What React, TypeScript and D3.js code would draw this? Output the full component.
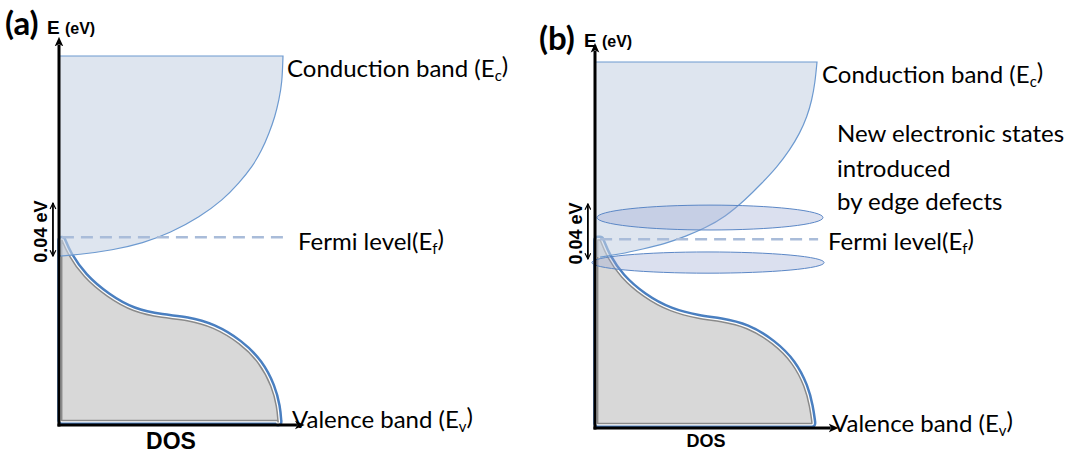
import * as d3 from "d3";

// ---- data (DOS units 0..100, energy units 0..100; 100 = top of the conduction band box) ----
type Pt = [number, number];

// panel (a)
const condA: Pt[] = [
  [100, 100], [99.6, 92.7], [98.2, 88.1], [96.4, 83.5], [93.8, 79.1], [90.6, 74.5],
  [86.2, 69.9], [80.4, 65.6], [73.2, 61.0], [62.9, 56.4], [49.6, 52.0], [37.5, 49.3],
  [24.1, 47.4], [8.0, 46.1], [0.4, 45.8],
];
const valA: Pt[] = [
  [1.3, 50.1], [3.6, 46.6], [10.7, 40.1], [21.4, 34.7], [33.0, 30.6], [46.4, 29.0],
  [57.1, 28.5], [68.8, 26.6], [80.8, 22.2], [89.7, 16.8], [95.1, 10.3], [97.3, 4.9], [97.8, 0.8],
];
const fermiA = { e: 50.9, from: 1.3, to: 100 };
const gapA = { dos: -2.7, top: 60.4, bottom: 45.5 };

// panel (b)
const condB: Pt[] = [
  [100, 100], [99.1, 94.3], [97.7, 89.6], [95.5, 85.0], [92.3, 80.6], [87.8, 76.0],
  [82.0, 71.3], [75.2, 66.9], [67.6, 62.3], [58.6, 57.7], [49.5, 54.6], [41.4, 52.5],
  [31.5, 50.3], [21.6, 48.9], [11.3, 47.5], [2.3, 46.7],
];
const valB: Pt[] = [
  [2.3, 51.4], [5.4, 46.7], [11.3, 41.3], [21.6, 35.8], [33.8, 31.7], [47.3, 29.8],
  [56.3, 29.2], [68.5, 27.6], [80.2, 23.2], [89.2, 17.8], [94.6, 11.2], [96.8, 5.7], [97.7, 1.6],
];
const fermiB = { e: 51.6, from: 2.3, to: 100.5 };
const gapB = { dos: -3.2, top: 61.5, bottom: 45.9 };
// edge-defect states: [centre dos, centre E, half width dos, half height E]
const defectStates: [number, number, number, number][] = [
  [51.8, 57.5, 50.9, 3.4],
  [50.9, 45.2, 52.3, 2.9],
];

const axisTop = 104.2;
const axisRight = 108;
const valInset = 1.2; // gray valence area sits just inside the axes

const W = 1067;
const H = 453;
const labelFont = "Lato, 'Open Sans', sans-serif";
const boldFont = "'Liberation Sans', Arial, sans-serif";

const cbFill = "rgba(200,212,228,0.6)";
const cbStroke = "#6d9ad0";

type Scale = d3.ScaleLinear<number, number>;

function Panel({
  id, x, y, cond, val, fermi, gap, states, dosSize, dosDy,
}: {
  id: string; x: Scale; y: Scale; cond: Pt[]; val: Pt[];
  fermi: { e: number; from: number; to: number };
  gap: { dos: number; top: number; bottom: number };
  states?: [number, number, number, number][];
  dosSize: number; dosDy: number;
}) {
  const curve = d3.line<Pt>().x((d) => x(d[0])).y((d) => y(d[1])).curve(d3.curveBasis);

  // conduction band: top edge + curve down to the axis
  const condEdge = `M${x(0)},${y(100)}` + curve(cond)!.replace(/^M/, "L");
  const condPath = condEdge + `L${x(0)},${y(cond[cond.length - 1][1])}Z`;

  // valence band closed outline
  const last = val[val.length - 1];
  const valPath = `M${x(valInset)},${y(valInset)}L${x(valInset)},${y(val[0][1])}` +
    curve(val)!.replace(/^M/, "L") + `L${x(last[0])},${y(valInset)}Z`;

  const x0 = x(0);
  const yBase = y(0);

  return (
    <g>
      {/* valence band: blue rim, white gap, gray line, gray fill */}
      <path d={valPath} fill="none" stroke="#4a7fc0" strokeWidth={9} strokeLinejoin="round" />
      <path d={valPath} fill="#fff" stroke="#fff" strokeWidth={4} strokeLinejoin="round" />
      <path d={valPath} fill="#d8d8d8" stroke="#8a8a8a" strokeWidth={1.5} strokeLinejoin="round" />

      {/* conduction band */}
      <path d={condPath} fill={cbFill} stroke="none" />
      <path d={condEdge} fill="none" stroke={cbStroke} strokeWidth={1.2} />

      {/* Fermi level */}
      <line x1={x(fermi.from)} x2={x(fermi.to)} y1={y(fermi.e)} y2={y(fermi.e)}
        stroke="#a9bcd9" strokeWidth={2.5} strokeDasharray="12 7" />

      {/* new states */}
      {states?.map((s, i) => (
        <ellipse key={i} cx={x(s[0])} cy={y(s[1])} rx={x(s[0] + s[2]) - x(s[0])} ry={y(s[1] - s[3]) - y(s[1])}
          fill="rgba(155,168,212,0.36)" stroke="#5b87c6" strokeWidth={1} />
      ))}

      {/* axes */}
      <line x1={x0} x2={x0} y1={yBase + 1.5} y2={y(axisTop) + 4} stroke="#000" strokeWidth={3}
        markerEnd={`url(#head-${id})`} />
      <line x1={x0 - 1.5} x2={x(axisRight) - 4} y1={yBase} y2={yBase} stroke="#000" strokeWidth={3}
        markerEnd={`url(#head-${id})`} />

      {/* 0.04 eV double arrow */}
      <line x1={x(gap.dos)} x2={x(gap.dos)} y1={y(gap.top) + 1} y2={y(gap.bottom) - 1} stroke="#000" strokeWidth={1.8}
        markerStart={`url(#chev-${id})`} markerEnd={`url(#chev-${id})`} />
      <text transform={`translate(${x(gap.dos) - 6},${(y(gap.top) + y(gap.bottom)) / 2 + 2}) rotate(-90)`}
        textAnchor="middle" fontFamily={boldFont} fontWeight="bold" fontSize={18}>0.04 eV</text>

      <text x={(x0 + x(100)) / 2} y={yBase + dosDy} textAnchor="middle"
        fontFamily={boldFont} fontWeight="bold" fontSize={dosSize}>DOS</text>

      <defs>
        <marker id={`head-${id}`} viewBox="0 0 10 10" refX={2} refY={5} markerWidth={3.2} markerHeight={3.2}
          orient="auto" markerUnits="strokeWidth">
          <path d="M0,0.5 L10,5 L0,9.5 L2.5,5 Z" fill="#000" />
        </marker>
        <marker id={`chev-${id}`} viewBox="0 0 10 10" refX={9} refY={5} markerWidth={4} markerHeight={4}
          orient="auto-start-reverse" markerUnits="strokeWidth">
          <path d="M1,1 L9,5 L1,9" fill="none" stroke="#000" strokeWidth={1.6} />
        </marker>
      </defs>
    </g>
  );
}

function Sub({ main, sub, close = ")" }: { main: string; sub: string; close?: string }) {
  return (
    <>
      {main}
      <tspan fontSize="0.62em" dy="0.3em">{sub}</tspan>
      <tspan dy="-0.3em">{close}</tspan>
    </>
  );
}

export default function App() {
  const xA = d3.scaleLinear().domain([0, 100]).range([59, 283]);
  const yA = d3.scaleLinear().domain([0, 100]).range([425, 56]);
  const xB = d3.scaleLinear().domain([0, 100]).range([595, 817]);
  const yB = d3.scaleLinear().domain([0, 100]).range([428, 62]);

  return (
    <svg width={W} height={H} style={{ position: "absolute", left: 0, top: 0, background: "#fff" }}>
      <Panel id="a" x={xA} y={yA} cond={condA} val={valA} fermi={fermiA} gap={gapA} dosSize={23} dosDy={24} />
      <Panel id="b" x={xB} y={yB} cond={condB} val={valB} fermi={fermiB} gap={gapB} states={defectStates}
        dosSize={18} dosDy={19} />

      {/* panel titles */}
      <text x={5} y={35} fontFamily={labelFont} fontWeight="bold" fontSize={33}>(a)</text>
      <text x={47} y={34} fontFamily={boldFont} fontWeight="bold" fontSize={19}>E <tspan fontSize={16}>(eV)</tspan></text>
      <text x={539} y={50} fontFamily={labelFont} fontWeight="bold" fontSize={33}>(b)</text>
      <text x={584} y={47} fontFamily={boldFont} fontWeight="bold" fontSize={19}>E <tspan fontSize={16}>(eV)</tspan></text>

      {/* labels (a) */}
      <g fontFamily={labelFont} fontSize={24} fill="#000">
        <text x={287} y={77}><Sub main="Conduction band (E" sub="c" /></text>
        <text x={298} y={250}><Sub main="Fermi level(E" sub="f" /></text>
        <text x={292} y={428}><Sub main="Valence band (E" sub="v" /></text>
      </g>

      {/* labels (b) */}
      <g fontFamily={labelFont} fontSize={24} fill="#000">
        <text x={822} y={83}><Sub main="Conduction band (E" sub="c" /></text>
        <text x={837} y={142}>New electronic states</text>
        <text x={837} y={177}>introduced</text>
        <text x={837} y={210}>by edge defects</text>
        <text x={828} y={250}><Sub main="Fermi level(E" sub="f" /></text>
        <text x={832} y={432}><Sub main="Valence band (E" sub="v" /></text>
      </g>
    </svg>
  );
}
